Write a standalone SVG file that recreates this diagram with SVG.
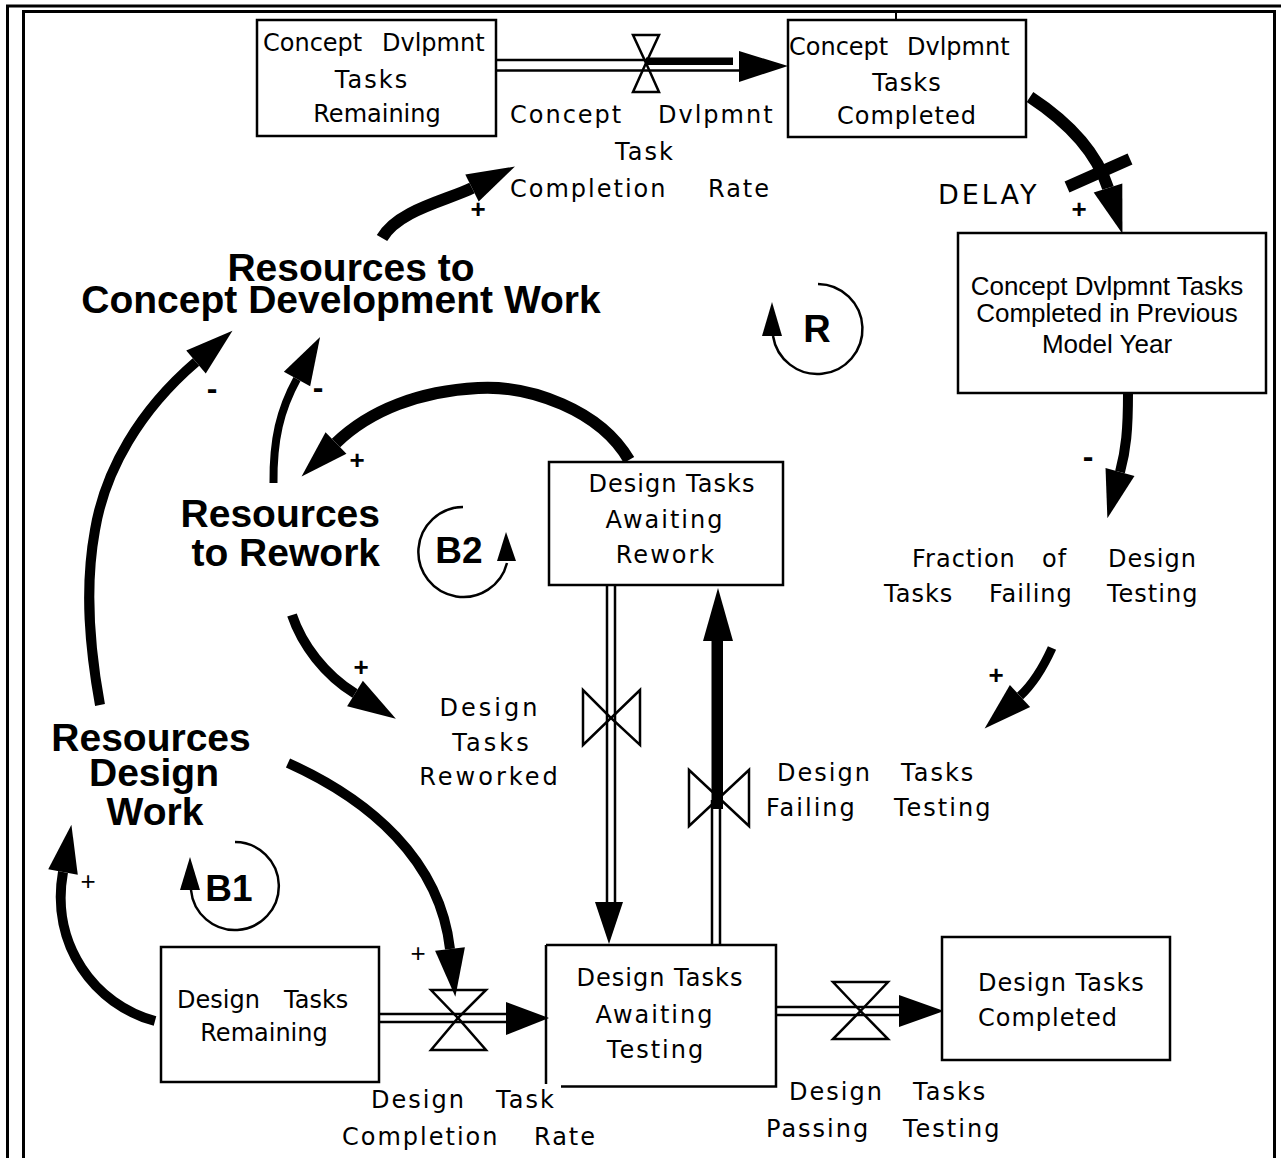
<svg xmlns="http://www.w3.org/2000/svg" width="1281" height="1158" viewBox="0 0 1281 1158">
<style>
.frame{fill:none;stroke:#000;stroke-width:3}
.box{fill:#fff;stroke:#000;stroke-width:2.5}
.pipe{fill:none;stroke:#000;stroke-width:2.5}
.valve{fill:#fff;stroke:#000;stroke-width:2.5;stroke-linejoin:miter}
.head{fill:#000;stroke:none}
.link{fill:none;stroke:#000;stroke-width:10}
.loop{fill:none;stroke:#000;stroke-width:2.5}
.t{font-family:"DejaVu Sans",Verdana,sans-serif;font-size:24px;fill:#000}
.ls1{letter-spacing:1px}
.ls2{letter-spacing:2px}
.ls3{letter-spacing:3px}
.c{font-family:"Liberation Sans",Arial,sans-serif;font-size:26px;fill:#000}
.b{font-family:"Liberation Sans",Arial,sans-serif;font-weight:bold;font-size:39px;fill:#000}
.sg{font-family:"Liberation Sans",Arial,sans-serif;font-weight:bold;font-size:26px;fill:#000;text-anchor:middle}
.mn{font-family:"Liberation Sans",Arial,sans-serif;font-weight:bold;font-size:32px;fill:#000;text-anchor:middle}
.sgt{font-family:"Liberation Sans",Arial,sans-serif;font-size:26px;fill:#000;text-anchor:middle}
.m{text-anchor:middle}
.e{text-anchor:end}
</style>
<defs>
<marker id="ah" markerUnits="userSpaceOnUse" markerWidth="60" markerHeight="40" refX="0" refY="0" viewBox="0 -20 60 40" orient="auto" overflow="visible">
<path d="M0,-15 L48,0 L0,15 Z" fill="#000"/>
</marker>
</defs>

<g id="frame">
<path class="frame" d="M7.5,1158 V6 H1281"/>
<path class="frame" d="M23.5,1158 V11.5 H1274.5 V1158"/>
<line x1="896" y1="12" x2="896" y2="20" stroke="#000" stroke-width="2"/>
</g>

<g id="connectors">
<g id="flow-concept">
<polygon class="valve" points="633,35 659,35 646,63"/>
<polygon class="valve" points="633,92 659,92 646,63"/>
<path class="pipe" d="M496,60 H646 M496,70.5 H740"/>
<rect x="646" y="57.5" width="87" height="7.5" fill="#000"/>
<polygon class="head" points="739,51 788,66 739,82"/>
</g>
<g id="flow-design-completion">
<polygon class="valve" points="431,990 486,990 458,1018"/>
<polygon class="valve" points="431,1050 486,1050 458,1018"/>
<path class="pipe" d="M380,1014 H507 M380,1022 H507"/>
<polygon class="head" points="506,1002 549,1018 506,1035"/>
</g>
<g id="flow-passing">
<polygon class="valve" points="833,982 888,982 860.5,1011"/>
<polygon class="valve" points="833,1039 888,1039 860.5,1011"/>
<path class="pipe" d="M777,1007 H900 M777,1015 H900"/>
<polygon class="head" points="899,995 944,1011 899,1027"/>
</g>
<g id="flow-reworked">
<polygon class="valve" points="583,690 583,745 611,718"/>
<polygon class="valve" points="640,690 640,745 611,718"/>
<path class="pipe" d="M607,586 V903 M615,586 V903"/>
<polygon class="head" points="595,902 623,902 609,944"/>
</g>
<g id="flow-failing">
<polygon class="valve" points="689,770 689,826 719,798"/>
<polygon class="valve" points="749,770 749,826 719,798"/>
<path class="pipe" d="M712,945 V800 M720,945 V800"/>
<rect x="711.5" y="640" width="11.5" height="169" fill="#000"/>
<polygon class="head" points="703,641 733,641 718,588"/>
</g>

<g id="links">
<path class="link" style="stroke-width:12" d="M382,238 C398,210 448,200 472,188" marker-end="url(#ah)"/>
<path class="link" style="stroke-width:12" d="M1030,97 C1065,120 1096,150 1108,188" marker-end="url(#ah)"/>
<line x1="1067" y1="187" x2="1130" y2="159" stroke="#000" stroke-width="12"/>
<path class="link" d="M1128,393 C1128,430 1126,450 1120,472" marker-end="url(#ah)"/>
<path class="link" style="stroke-width:9" d="M1052,648 C1042,670 1032,685 1020,696" marker-end="url(#ah)"/>
<path class="link" d="M100,705 C90,650 84,590 95,530 C105,470 140,410 196,362" marker-end="url(#ah)"/>
<path class="link" style="stroke-width:8" d="M273.5,483 C273,440 280,410 297,379" marker-end="url(#ah)"/>
<path class="link" style="stroke-width:12" d="M629,460 C600,410 530,385 478,388 C420,391 370,410 336,443" marker-end="url(#ah)"/>
<path class="link" d="M292,615 C302,645 325,675 355,693.5" marker-end="url(#ah)"/>
<path class="link" d="M288,763 C370,800 440,860 450,949" marker-end="url(#ah)"/>
<path class="link" d="M155,1021 C95,1005 50,945 63,872" marker-end="url(#ah)"/>
</g>

<g id="loops">
<path class="loop" d="M818,284 A45,45 0 1 1 773,336"/>
<polygon class="head" points="762,336 782,336 772,302"/>
<path class="loop" d="M463,507 A45,45 0 1 0 507,563"/>
<polygon class="head" points="497,561 516,561 506,532"/>
<path class="loop" d="M235,842 A44,44 0 1 1 191,890"/>
<polygon class="head" points="180,890 200,890 190,857"/>
</g>
</g>

<g id="node-concept-remaining">
<rect class="box" x="257" y="20" width="239" height="116"/>
<text class="t" y="51"><tspan x="263">Concept</tspan><tspan x="382">Dvlpmnt</tspan></text>
<text class="t m ls2" x="372" y="88">Tasks</text>
<text class="t m" x="377" y="122">Remaining</text>
</g>

<g id="node-concept-completed">
<rect class="box" x="788" y="20" width="238" height="117"/>
<text class="t" y="55"><tspan x="789">Concept</tspan><tspan x="907">Dvlpmnt</tspan></text>
<text class="t m ls1" x="907" y="91">Tasks</text>
<text class="t m ls1" x="907" y="124">Completed</text>
</g>

<g id="node-concept-rate">
<text class="t ls2" y="123"><tspan x="510">Concept</tspan><tspan x="658">Dvlpmnt</tspan></text>
<text class="t m ls2" x="645" y="160">Task</text>
<text class="t ls2" y="197"><tspan x="510">Completion</tspan><tspan x="708">Rate</tspan></text>
</g>

<g id="node-delay">
<text class="t ls3" x="938" y="204" style="font-size:27px">DELAY</text>
</g>

<g id="node-concept-previous">
<rect class="box" x="958" y="233" width="308" height="160"/>
<text class="c m" x="1107" y="295">Concept Dvlpmnt Tasks</text>
<text class="c m" x="1107" y="322">Completed in Previous</text>
<text class="c m" x="1107" y="353">Model Year</text>
</g>

<g id="node-fraction">
<text class="t ls1" y="567"><tspan x="912">Fraction</tspan><tspan x="1042">of</tspan><tspan x="1108">Design</tspan></text>
<text class="t ls1" y="602"><tspan x="884">Tasks</tspan><tspan x="989">Failing</tspan><tspan x="1107">Testing</tspan></text>
</g>

<g id="node-failing-rate">
<text class="t ls2" y="781"><tspan x="777">Design</tspan><tspan x="901">Tasks</tspan></text>
<text class="t ls2" y="816"><tspan x="766">Failing</tspan><tspan x="894">Testing</tspan></text>
</g>

<g id="node-awaiting-rework">
<rect class="box" x="549" y="462" width="234" height="123"/>
<text class="t m ls1" x="672" y="492">Design Tasks</text>
<text class="t m ls2" x="665" y="528">Awaiting</text>
<text class="t m ls2" x="666" y="563">Rework</text>
</g>

<g id="node-reworked">
<text class="t m ls3" x="490" y="716">Design</text>
<text class="t m ls3" x="492" y="751">Tasks</text>
<text class="t m ls3" x="490" y="785">Reworked</text>
</g>

<g id="node-awaiting-testing">
<path class="box" d="M546,945 H776 V1086.5 H561 M546,945 V1084"/>
<text class="t m ls1" x="660" y="986">Design Tasks</text>
<text class="t m ls2" x="655" y="1023">Awaiting</text>
<text class="t m ls2" x="656" y="1058">Testing</text>
</g>

<g id="node-design-remaining">
<rect class="box" x="161" y="947" width="218" height="135"/>
<text class="t" y="1008"><tspan x="177">Design</tspan><tspan x="284">Tasks</tspan></text>
<text class="t m" x="264" y="1041">Remaining</text>
</g>

<g id="node-design-completed">
<rect class="box" x="942" y="937" width="228" height="123"/>
<text class="t ls1" x="978" y="991">Design Tasks</text>
<text class="t ls1" x="978" y="1026">Completed</text>
</g>

<g id="node-completion-rate">
<text class="t ls2" y="1108"><tspan x="371">Design</tspan><tspan x="496">Task</tspan></text>
<text class="t ls2" y="1145"><tspan x="342">Completion</tspan><tspan x="534">Rate</tspan></text>
</g>

<g id="node-passing-rate">
<text class="t ls2" y="1100"><tspan x="789">Design</tspan><tspan x="913">Tasks</tspan></text>
<text class="t ls2" y="1137"><tspan x="766">Passing</tspan><tspan x="903">Testing</tspan></text>
</g>

<g id="node-res-concept">
<text class="b m" x="351" y="281">Resources to</text>
<text class="b m" x="341" y="313">Concept Development Work</text>
</g>

<g id="node-res-rework">
<text class="b e" x="380" y="527">Resources</text>
<text class="b e" x="380" y="566">to Rework</text>
</g>

<g id="node-res-design">
<text class="b m" x="151" y="751">Resources</text>
<text class="b m" x="154" y="786">Design</text>
<text class="b m" x="155" y="825">Work</text>
</g>

<g id="loop-labels">
<text class="b m" x="817" y="342" style="font-size:38px">R</text>
<text class="b m" x="459" y="563" style="font-size:37px">B2</text>
<text class="b m" x="229" y="901" style="font-size:37px">B1</text>
</g>

<g id="signs">
<text class="sg" x="478" y="218">+</text>
<text class="sg" x="1079" y="218">+</text>
<text class="mn" x="1088" y="467">-</text>
<text class="sg" x="996" y="684">+</text>
<text class="mn" x="212" y="399">-</text>
<text class="mn" x="318" y="398">-</text>
<text class="sg" x="357" y="469">+</text>
<text class="sg" x="361" y="676">+</text>
<text class="sgt" x="418" y="962">+</text>
<text class="sgt" x="88" y="890">+</text>
</g>
</svg>
